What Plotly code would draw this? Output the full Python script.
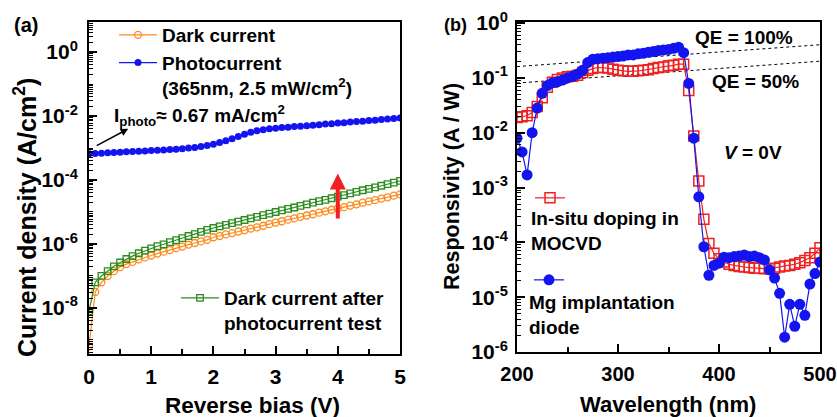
import plotly.graph_objects as go

# ---------------- Panel (a) data ----------------
bias_v = [round(0.1 * i, 1) for i in range(51)]
photo_log10 = [-3.18, -3.17, -3.16, -3.15, -3.14, -3.13, -3.12, -3.11, -3.10, -3.09,
               -3.08, -3.07, -3.06, -3.05, -3.04, -3.02, -3.00, -2.98, -2.95, -2.92,
               -2.88, -2.83, -2.77, -2.71, -2.64, -2.57, -2.51, -2.46, -2.43, -2.40,
               -2.38, -2.36, -2.35, -2.33, -2.32, -2.30, -2.29, -2.27, -2.25, -2.24,
               -2.22, -2.21, -2.19, -2.17, -2.16, -2.14, -2.13, -2.11, -2.09, -2.08, -2.06]
dark_log10 = [-9.20, -7.50, -7.20, -7.00, -6.85, -6.72, -6.63, -6.56, -6.48, -6.42,
              -6.36, -6.30, -6.24, -6.19, -6.13, -6.08, -6.02, -5.97, -5.92, -5.87,
              -5.79, -5.75, -5.70, -5.66, -5.61, -5.57, -5.52, -5.48, -5.43, -5.38,
              -5.33, -5.29, -5.24, -5.20, -5.15, -5.11, -5.07, -5.02, -4.98, -4.93,
              -4.89, -4.85, -4.80, -4.76, -4.71, -4.67, -4.63, -4.58, -4.54, -4.49, -4.45]
after_log10 = [-8.10, -7.20, -7.00, -6.85, -6.70, -6.58, -6.47, -6.38, -6.29, -6.21,
               -6.14, -6.07, -6.01, -5.94, -5.88, -5.82, -5.75, -5.69, -5.62, -5.56,
               -5.50, -5.45, -5.40, -5.35, -5.30, -5.25, -5.20, -5.15, -5.10, -5.05,
               -5.00, -4.95, -4.90, -4.86, -4.81, -4.76, -4.71, -4.66, -4.62, -4.57,
               -4.52, -4.47, -4.42, -4.37, -4.32, -4.28, -4.23, -4.18, -4.13, -4.08, -4.03]

# ---------------- Panel (b) data ----------------
wavelength_nm = list(range(200, 505, 5))
insitu_log10 = [-1.72, -1.71, -1.69, -1.63, -1.52, -1.36, -1.17, -1.08, -1.03, -1.00,
                -0.98, -0.97, -0.95, -0.90, -0.86, -0.83, -0.81, -0.81, -0.82, -0.84,
                -0.86, -0.87, -0.88, -0.88, -0.87, -0.86, -0.85, -0.83, -0.81, -0.80,
                -0.78, -0.77, -0.75, -0.75, -1.23, -2.06, -2.88, -3.58, -4.02, -4.20,
                -4.30, -4.36, -4.40, -4.42, -4.44, -4.45, -4.46, -4.47, -4.47, -4.48,
                -4.48, -4.47, -4.45, -4.43, -4.42, -4.40, -4.37, -4.33, -4.28, -4.20, -4.10]
mg_log10 = [-2.10, -2.35, -2.77, -2.00, -1.55, -1.28, -1.14, -1.09, -1.07, -1.04,
            -1.00, -0.97, -0.93, -0.86, -0.72, -0.66, -0.65, -0.64, -0.63, -0.62,
            -0.61, -0.60, -0.58, -0.58, -0.56, -0.55, -0.53, -0.52, -0.50, -0.49,
            -0.48, -0.46, -0.44, -0.54, -1.10, -2.10, -3.17, -4.08, -4.60, -4.42,
            -4.38, -4.27, -4.28, -4.26, -4.25, -4.23, -4.26, -4.25, -4.28, -4.32,
            -4.50, -4.65, -4.93, -5.73, -5.13, -5.53, -5.13, -5.33, -4.76, -4.57, -4.36]
qe_wl = [200, 500]
qe100 = [0.161, 0.403]
qe50 = [0.0806, 0.2016]

y_a_exps = [-8, -6, -4, -2, 0]
y_a_ticks = [10.0 ** e for e in y_a_exps]
y_a_text = ["10<sup>%d</sup>" % e for e in y_a_exps]
y_b_exps = [-6, -5, -4, -3, -2, -1, 0]
y_b_ticks = [10.0 ** e for e in y_b_exps]
y_b_text = ["10<sup>%d</sup>" % e for e in y_b_exps]

FONT = "Liberation Sans, Arial, sans-serif"
ORANGE = "#FF8A1C"
BLUE = "#1414F0"
GREEN = "#2C8C1E"
RED = "#F02020"


def bold(size):
    return dict(family=FONT, size=size, color="black", weight="bold")


fig = go.Figure()

fig.add_trace(go.Scatter(
    x=bias_v, y=[10 ** v for v in dark_log10], name="Dark current",
    mode="lines+markers", line=dict(color=ORANGE, width=1.2),
    marker=dict(symbol="circle-open", size=7, color=ORANGE, line=dict(width=1.3)),
    xaxis="x", yaxis="y", legend="legend"))
fig.add_trace(go.Scatter(
    x=bias_v, y=[10 ** v for v in photo_log10],
    name="Photocurrent<br>(365nm, 2.5 mW/cm<sup>2</sup>)",
    mode="lines+markers", line=dict(color=BLUE, width=1.2),
    marker=dict(symbol="circle", size=7, color=BLUE),
    xaxis="x", yaxis="y", legend="legend"))
fig.add_trace(go.Scatter(
    x=bias_v, y=[10 ** v for v in after_log10],
    name="Dark current after<br>photocurrent test",
    mode="lines+markers", line=dict(color=GREEN, width=1.2),
    marker=dict(symbol="square-open", size=6.5, color=GREEN, line=dict(width=1.3)),
    xaxis="x", yaxis="y", legend="legend2"))

fig.add_trace(go.Scatter(
    x=qe_wl, y=qe100, mode="lines", line=dict(color="black", width=1, dash="dot"),
    showlegend=False, xaxis="x2", yaxis="y2"))
fig.add_trace(go.Scatter(
    x=qe_wl, y=qe50, mode="lines", line=dict(color="black", width=1, dash="dot"),
    showlegend=False, xaxis="x2", yaxis="y2"))
fig.add_trace(go.Scatter(
    x=wavelength_nm, y=[10 ** v for v in insitu_log10], name=" ",
    mode="lines+markers", line=dict(color=RED, width=1.2),
    marker=dict(symbol="square-open", size=10, color=RED, line=dict(width=1.5)),
    xaxis="x2", yaxis="y2", legend="legend3"))
fig.add_trace(go.Scatter(
    x=wavelength_nm, y=[10 ** v for v in mg_log10], name=" ",
    mode="lines+markers", line=dict(color=BLUE, width=1.2),
    marker=dict(symbol="circle", size=11, color=BLUE),
    xaxis="x2", yaxis="y2", legend="legend4"))

minor_a = [k * 10.0 ** e for e in range(-10, 1) for k in range(2, 10)] + \
          [10.0 ** e for e in (-9, -7, -5, -3, -1)]
minor_b = [k * 10.0 ** e for e in range(-7, 0) for k in range(2, 10)]

axis_common = dict(showline=True, linecolor="black", linewidth=2, mirror=True,
                   ticks="inside", tickcolor="black", tickwidth=1.5, ticklen=8,
                   showgrid=False, zeroline=False, automargin=False,
                   tickfont=bold(21))

fig.update_layout(
    width=837, height=417, autosize=False,
    margin=dict(l=0, r=0, t=0, b=0),
    paper_bgcolor="white", plot_bgcolor="white",
    font=dict(family=FONT, color="black", weight="bold"),
    xaxis=dict(axis_common, domain=[89 / 837, 400 / 837], anchor="y",
               range=[0, 5], tickvals=[0, 1, 2, 3, 4, 5],
               minor=dict(tickvals=[0.5, 1.5, 2.5, 3.5, 4.5], ticks="inside", ticklen=5,
                          tickcolor="black", tickwidth=1.5),
               ticklabelstandoff=3),
    yaxis=dict(axis_common, domain=[63 / 417, 395 / 417], anchor="x", type="log",
               range=[-9.44, 0.94], tickvals=y_a_ticks, ticktext=y_a_text,
               minor=dict(tickvals=minor_a, ticks="inside", ticklen=4,
                          tickcolor="black", tickwidth=1),
               ticklabelstandoff=5),
    xaxis2=dict(axis_common, domain=[517 / 837, 820 / 837], anchor="y2",
                range=[200, 500], tickvals=[200, 300, 400, 500],
                tickfont=bold(20), ticklabeloverflow="allow",
                minor=dict(tickvals=[250, 350, 450], ticks="inside", ticklen=5,
                           tickcolor="black", tickwidth=1.5),
                ticklabelstandoff=3),
    yaxis2=dict(axis_common, domain=[65 / 417, 395 / 417], anchor="x2", type="log",
                range=[-6, 0.02], tickvals=y_b_ticks, ticktext=y_b_text,
                minor=dict(tickvals=minor_b, ticks="inside", ticklen=4,
                           tickcolor="black", tickwidth=1),
                ticklabelstandoff=3),
    legend=dict(x=114 / 837, y=1 - 16 / 417, xanchor="left", yanchor="top",
                bgcolor="rgba(0,0,0,0)", font=bold(19),
                itemwidth=38, valign="top", tracegroupgap=0),
    legend2=dict(x=176 / 837, y=1 - 279 / 417, xanchor="left", yanchor="top",
                 bgcolor="rgba(0,0,0,0)", font=bold(19),
                 itemwidth=38, valign="top"),
    legend3=dict(x=530 / 837, y=1 - 179 / 417, xanchor="left", yanchor="top",
                 bgcolor="rgba(0,0,0,0)", font=bold(19), itemwidth=30),
    legend4=dict(x=529 / 837, y=1 - 261 / 417, xanchor="left", yanchor="top",
                 bgcolor="rgba(0,0,0,0)", font=bold(19), itemwidth=30),
)


def paper_text(text, x, y, size=19, xanchor="left", yanchor="middle", angle=0):
    return dict(text=text, x=x / 837, y=1 - y / 417, xref="paper", yref="paper",
                xanchor=xanchor, yanchor=yanchor, align="left", showarrow=False,
                textangle=angle, font=bold(size))


annotations = [
    paper_text("(a)", 12, 25, size=20),
    paper_text("(b)", 442, 25, size=18),
    paper_text("Current density (A/cm<sup>2</sup>)", 25, 218, size=25,
               xanchor="center", angle=-90),
    paper_text("Reverse bias (V)", 252, 405, size=22.5, xanchor="center"),
    paper_text("Responsivity (A / W)", 452, 186, size=21.5, xanchor="center", angle=-90),
    paper_text("Wavelength (nm)", 668, 404, size=22, xanchor="center"),
    paper_text("I<sub>photo</sub>≈ 0.67 mA/cm<sup>2</sup>", 112, 115),
    dict(text="", x=0.63, y=-2.4, ax=0.1, ay=-2.95, xref="x", yref="y",
         axref="x", ayref="y", showarrow=True, arrowhead=2, arrowsize=1,
         arrowwidth=1.5, arrowcolor="black"),
    dict(text="", x=4, y=-3.8, ax=4, ay=-5.25, xref="x", yref="y",
         axref="x", ayref="y", showarrow=True, arrowhead=2, arrowsize=0.8,
         arrowwidth=4, arrowcolor=RED),
    paper_text("QE = 100%", 693, 37),
    paper_text("QE = 50%", 710, 81),
    paper_text("<i>V</i> = 0V", 722, 153),
    paper_text("In-situ doping in<br>MOCVD", 529, 231),
    paper_text("Mg implantation<br>diode", 527, 315),
]
fig.update_layout(annotations=annotations)

fig.write_html("out.html")
